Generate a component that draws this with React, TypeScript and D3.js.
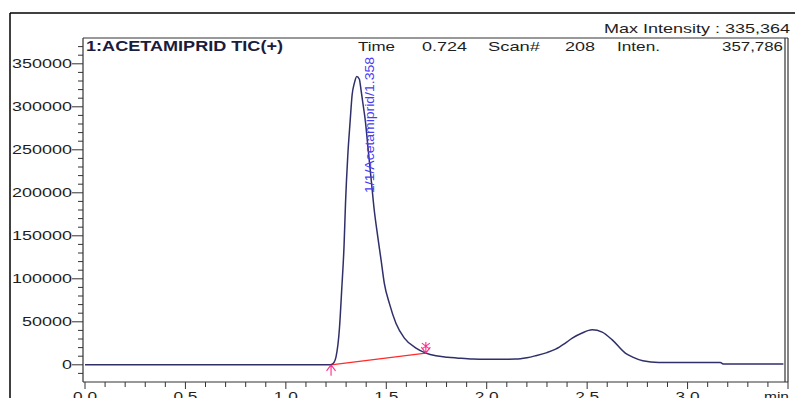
import React from "react";
import * as d3 from "d3";

// chromatogram trace (time in min, intensity)
const times = [0, 1.0, 1.22, 1.235, 1.25, 1.267, 1.278, 1.29, 1.297, 1.308, 1.32, 1.33, 1.341, 1.353, 1.366, 1.374, 1.383, 1.395, 1.41, 1.425, 1.44, 1.457, 1.474, 1.49, 1.515, 1.548, 1.59, 1.648, 1.697, 1.747, 1.805, 1.85, 1.93, 2.0, 2.144, 2.2, 2.243, 2.3, 2.343, 2.39, 2.426, 2.475, 2.525, 2.575, 2.625, 2.69, 2.727, 2.777, 2.857, 3.163, 3.18, 3.477];
const intensities = [0, 0, 0, 1500, 9600, 43000, 87000, 140000, 188000, 242000, 283000, 314000, 327500, 335364, 332000, 320000, 305000, 285000, 250000, 215000, 180000, 150000, 122000, 95000, 71700, 48400, 31000, 19400, 13600, 10500, 8900, 8000, 6600, 6400, 6600, 8200, 10500, 14200, 18200, 25000, 31000, 37000, 40700, 38000, 29000, 13600, 8900, 4650, 2700, 2700, 800, 800];

// integration baseline (start / end of peak)
const baseStart = { t: 1.225, v: 0 };
const baseEnd = { t: 1.697, v: 13600 };

const yMajorTicks = [0, 50000, 100000, 150000, 200000, 250000, 300000, 350000];
const xMajorTicks = [0, 0.5, 1.0, 1.5, 2.0, 2.5, 3.0];

const title = "1:ACETAMIPRID TIC(+)";
const maxIntensity = "Max Intensity : 335,364";
const peakLabel = "1/1/Acetamiprid/1.358";
const headerItems = [
  { text: "Time", x: 358, len: 37 },
  { text: "0.724", x: 422, len: 45 },
  { text: "Scan#", x: 488, len: 52 },
  { text: "208", x: 565, len: 30 },
  { text: "Inten.", x: 617, len: 43 },
  { text: "357,786", x: 722, len: 61 },
];

const W = 795;
const H = 398;
const FONT = "'Liberation Sans', Arial, sans-serif";
const TRACE = "#2f2f6a";
const INK = "#1e1e1e";

const App: React.FC = () => {
  const x = d3.scaleLinear().domain([0, 3.5]).range([85, 788]);
  const y = d3.scaleLinear().domain([-20000, 380000]).range([382, 38]);

  const pts = times.map((t, i) => [t, intensities[i]] as [number, number]);
  const line = d3
    .line<[number, number]>()
    .x((d) => x(d[0]))
    .y((d) => y(d[1]))
    .curve(d3.curveMonotoneX);

  const yMinor = d3.range(-10000, 380000, 10000).filter((v) => v % 50000 !== 0);
  const xMinor = d3.range(1, 36).map((i) => i / 10).filter((t) => Math.round(t * 10) % 5 !== 0);

  const sx = x(baseStart.t);
  const sy = y(baseStart.v);
  const ex = x(baseEnd.t);
  const ey = y(baseEnd.v);
  const peakX = x(1.353);

  return (
    <svg
      width={W}
      height={H}
      style={{ position: "absolute", left: 0, top: 0, background: "#fff" }}
      fontFamily={FONT}
    >
      {/* outer frame */}
      <line x1={10} y1={13} x2={W} y2={13} stroke="#000" strokeWidth={1.5} />
      <line x1={10} y1={13} x2={10} y2={H} stroke="#000" strokeWidth={1.5} />

      {/* plot frame */}
      <line x1={83} y1={38} x2={788} y2={38} stroke="#333" strokeWidth={1} />
      <line x1={785} y1={38} x2={785} y2={382} stroke="#333" strokeWidth={1.2} />
      <line x1={788} y1={38} x2={788} y2={382} stroke="#333" strokeWidth={1.2} />
      <line x1={83} y1={38} x2={83} y2={382} stroke="#333" strokeWidth={1.2} />
      <line x1={83} y1={382} x2={788} y2={382} stroke="#333" strokeWidth={1.2} />

      {/* y ticks */}
      {yMinor.map((v) => (
        <line key={"ym" + v} x1={78} x2={83} y1={y(v)} y2={y(v)} stroke="#333" />
      ))}
      {yMajorTicks.map((v) => (
        <g key={"yM" + v}>
          <line x1={72} x2={83} y1={y(v)} y2={y(v)} stroke="#333" />
          <text
            x={72}
            y={y(v) + 4.3}
            fontSize={12}
            fill={INK}
            textAnchor="end"
            textLength={String(v).length * 10}
            lengthAdjust="spacingAndGlyphs"
          >
            {String(v)}
          </text>
        </g>
      ))}

      {/* x ticks */}
      {xMinor.map((t) => (
        <line key={"xm" + t} x1={x(t)} x2={x(t)} y1={382} y2={387} stroke="#333" />
      ))}
      {[...xMajorTicks, 3.5].map((t) => (
        <line key={"xM" + t} x1={x(t)} x2={x(t)} y1={382} y2={389} stroke="#333" />
      ))}
      {xMajorTicks.map((t) => (
        <text
          key={"xl" + t}
          x={x(t)}
          y={401}
          fontSize={12}
          fill={INK}
          textAnchor="middle"
          textLength={24}
          lengthAdjust="spacingAndGlyphs"
        >
          {t.toFixed(1)}
        </text>
      ))}
      <text x={789} y={401} fontSize={12} fill={INK} textAnchor="end" textLength={25} lengthAdjust="spacingAndGlyphs">
        min
      </text>

      {/* header */}
      <text x={604} y={33} fontSize={13} fill={INK} textLength={186} lengthAdjust="spacingAndGlyphs">
        {maxIntensity}
      </text>
      <text
        x={86}
        y={51}
        fontSize={14}
        fontWeight="bold"
        fill="#1c1c3c"
        textLength={197}
        lengthAdjust="spacingAndGlyphs"
      >
        {title}
      </text>
      {headerItems.map((h) => (
        <text
          key={h.text}
          x={h.x}
          y={50.5}
          fontSize={13}
          fill={INK}
          textLength={h.len}
          lengthAdjust="spacingAndGlyphs"
        >
          {h.text}
        </text>
      ))}

      {/* integration baseline */}
      <line x1={sx} y1={sy} x2={ex} y2={ey} stroke="#ff2a2a" strokeWidth={1.2} />

      {/* trace */}
      <path d={line(pts) ?? ""} fill="none" stroke={TRACE} strokeWidth={1.5} />

      {/* peak markers */}
      <g stroke="#ff2d8a" strokeWidth={1.1} fill="none">
        <path d={`M${sx},${sy} V${sy + 11} M${sx},${sy} L${sx - 4.5},${sy + 6} M${sx},${sy} L${sx + 4.5},${sy + 6}`} />
        <path d={`M${ex},${ey} V${ey - 11} M${ex},${ey} L${ex - 4.5},${ey - 6} M${ex},${ey} L${ex + 4.5},${ey - 6} M${ex - 4},${ey - 10} L${ex + 4},${ey - 4} M${ex + 4},${ey - 10} L${ex - 4},${ey - 4}`} />
      </g>

      {/* peak label */}
      <text
        transform={`translate(${peakX + 17},193) rotate(-90)`}
        fontSize={12.5}
        fill="#4a3cf2"
        textLength={136}
        lengthAdjust="spacingAndGlyphs"
      >
        {peakLabel}
      </text>
    </svg>
  );
};

export default App;
